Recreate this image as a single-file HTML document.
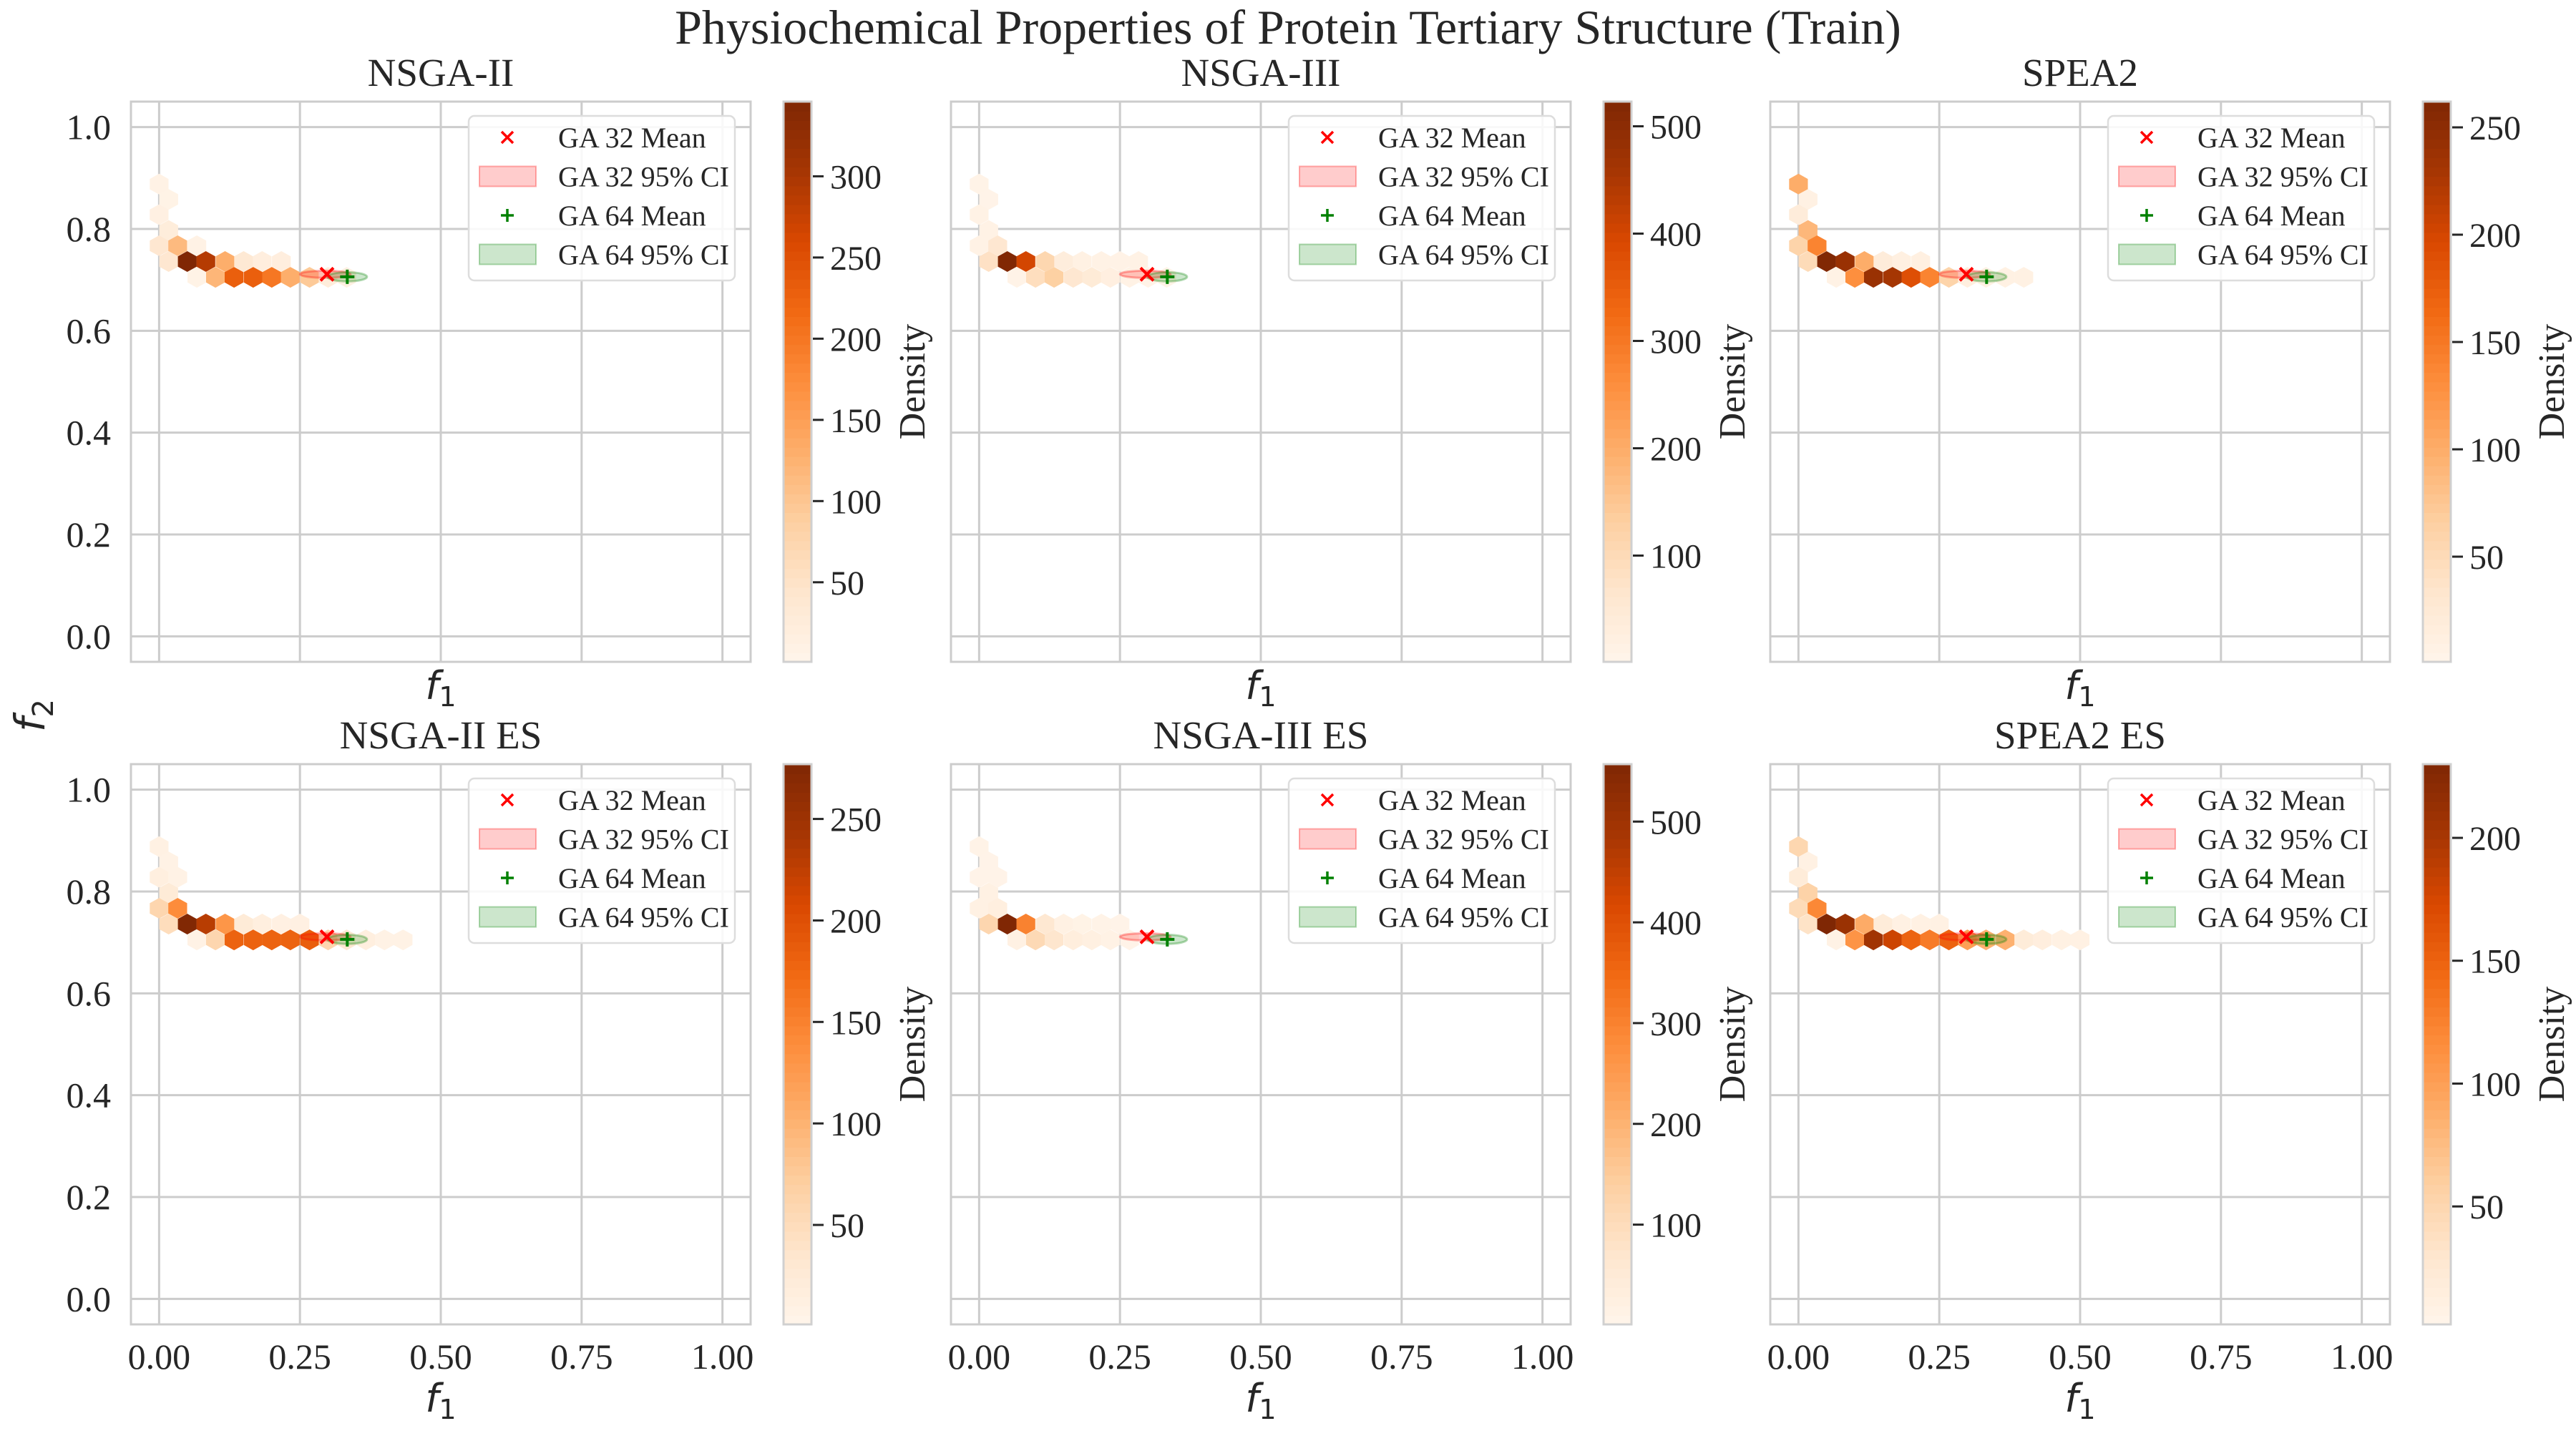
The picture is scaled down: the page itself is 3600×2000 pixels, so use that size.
<!DOCTYPE html>
<html><head><meta charset="utf-8"><style>
html,body{margin:0;padding:0;background:#fff;}
svg{display:block;}
text{font-family:"Liberation Serif",serif;fill:#262626;}
.math{font-family:"DejaVu Sans",sans-serif;font-style:italic;}
</style></head><body>
<svg id="fig" width="3600" height="2000" viewBox="0 0 3600 2000" xmlns="http://www.w3.org/2000/svg">
<text x="1800" y="61" text-anchor="middle" font-size="68">Physiochemical Properties of Protein Tertiary Structure (Train)</text>
<text transform="translate(62,1000) rotate(-90)" text-anchor="middle" font-size="58" class="math">f<tspan font-style="normal" font-size="40" dy="12">2</tspan></text>
</svg>
<script>
// ---- data ----
const panelTitles = ["NSGA-II","NSGA-III","SPEA2","NSGA-II ES","NSGA-III ES","SPEA2 ES"];
const xTickValues = [0, 0.25, 0.5, 0.75, 1.0];
const xTickLabels = ["0.00","0.25","0.50","0.75","1.00"];
const yTickValues = [0, 0.2, 0.4, 0.6, 0.8, 1.0];
const yTickLabels = ["0.0","0.2","0.4","0.6","0.8","1.0"];
const legendLabels = ["GA 32 Mean","GA 32 95% CI","GA 64 Mean","GA 64 95% CI"];

const nsga2F1 = [0,0.017,0,0.017,0,0.033,0.067,0.017,0.05,0.083,0.117,0.15,0.183,0.217,0.067,0.1,0.133,0.167,0.2,0.233,0.267,0.3,0.333];
const nsga2F2 = [0.888,0.858,0.828,0.797,0.767,0.767,0.767,0.736,0.736,0.736,0.736,0.736,0.736,0.736,0.705,0.705,0.705,0.705,0.705,0.705,0.705,0.705,0.705];
const nsga2Count = [10,8,15,25,40,115,10,40,345,290,130,35,20,20,8,120,230,230,200,130,95,25,15];

const nsga3F1 = [0,0.017,0,0.017,0,0.033,0.017,0.05,0.083,0.117,0.15,0.183,0.217,0.25,0.283,0.067,0.1,0.133,0.167,0.2,0.233,0.267,0.3,0.333];
const nsga3F2 = [0.888,0.858,0.828,0.797,0.767,0.767,0.736,0.736,0.736,0.736,0.736,0.736,0.736,0.736,0.736,0.705,0.705,0.705,0.705,0.705,0.705,0.705,0.705,0.705];
const nsga3Count = [10,8,15,15,15,60,80,520,400,110,35,20,15,12,15,10,90,130,60,45,25,15,10,10];

const spea2F1 = [0,0.017,0,0.017,0,0.033,0.017,0.05,0.083,0.117,0.15,0.183,0.217,0.067,0.1,0.133,0.167,0.2,0.233,0.267,0.3,0.333,0.367,0.4];
const spea2F2 = [0.888,0.858,0.828,0.797,0.767,0.767,0.736,0.736,0.736,0.736,0.736,0.736,0.736,0.705,0.705,0.705,0.705,0.705,0.705,0.705,0.705,0.705,0.705,0.705];
const spea2Count = [100,10,20,90,60,140,50,260,240,100,20,12,12,8,130,240,230,190,140,60,15,10,10,10];

const nsga2esF1 = [0,0.017,0,0.033,0.017,0,0.033,0.017,0.05,0.083,0.117,0.15,0.183,0.217,0.25,0.067,0.1,0.133,0.167,0.2,0.233,0.267,0.3,0.333,0.367,0.4,0.433];
const nsga2esF2 = [0.888,0.858,0.828,0.828,0.797,0.767,0.767,0.736,0.736,0.736,0.736,0.736,0.736,0.736,0.736,0.705,0.705,0.705,0.705,0.705,0.705,0.705,0.705,0.705,0.705,0.705,0.705];
const nsga2esCount = [10,8,15,8,25,60,140,50,275,230,130,25,15,12,12,8,60,180,180,180,180,185,60,30,15,8,8];

const nsga3esF1 = [0,0.017,0,0.033,0.017,0,0.033,0.017,0.05,0.083,0.117,0.15,0.183,0.217,0.25,0.067,0.1,0.133,0.167,0.2,0.233,0.267];
const nsga3esF2 = [0.888,0.858,0.828,0.828,0.797,0.767,0.767,0.736,0.736,0.736,0.736,0.736,0.736,0.736,0.736,0.705,0.705,0.705,0.705,0.705,0.705,0.705];
const nsga3esCount = [10,8,8,8,20,20,30,120,555,300,60,20,12,10,8,20,110,70,35,25,15,8];

const spea2esF1 = [0,0.017,0,0.017,0,0.033,0.017,0.05,0.083,0.117,0.15,0.183,0.217,0.25,0.067,0.1,0.133,0.167,0.2,0.233,0.267,0.3,0.333,0.367,0.4,0.433,0.467,0.5];
const spea2esF2 = [0.888,0.858,0.828,0.797,0.767,0.767,0.736,0.736,0.736,0.736,0.736,0.736,0.736,0.736,0.705,0.705,0.705,0.705,0.705,0.705,0.705,0.705,0.705,0.705,0.705,0.705,0.705,0.705];
const spea2esCount = [50,10,20,55,45,120,35,230,210,90,20,10,10,10,8,110,205,180,150,130,150,100,85,85,20,15,10,10];

const cbarMin = [1,1,1,1,1,2];
const cbarMax = [346,523,262,277,557,230];
const cbarTicks = [[50,100,150,200,250,300],[100,200,300,400,500],[50,100,150,200,250],[50,100,150,200,250],[100,200,300,400,500],[50,100,150,200]];

const ga32Mean = [[0.298,0.711],[0.298,0.711],[0.298,0.711],[0.298,0.711],[0.298,0.711],[0.298,0.711]];
const ga64Mean = [[0.334,0.706],[0.334,0.706],[0.334,0.706],[0.334,0.706],[0.334,0.706],[0.334,0.706]];
const ga32HalfWidth = [0.045,0.045,0.045,0.045,0.045,0.045];
const ga64HalfWidth = [0.035,0.035,0.035,0.035,0.035,0.035];
const ga32HalfHeight = [0.007,0.007,0.007,0.007,0.007,0.007];
const ga64HalfHeight = [0.009,0.009,0.009,0.009,0.009,0.009];

const hexF1 = [nsga2F1,nsga3F1,spea2F1,nsga2esF1,nsga3esF1,spea2esF1];
const hexF2 = [nsga2F2,nsga3F2,spea2F2,nsga2esF2,nsga3esF2,spea2esF2];
const hexCount = [nsga2Count,nsga3Count,spea2Count,nsga2esCount,nsga3esCount,spea2esCount];

// ---- layout ----
const NS = "http://www.w3.org/2000/svg";
const svg = document.getElementById("fig");
const colLeft = [183, 1329, 2474];
const axW = 866;
const rowTop = [142, 1068];
const axH = 783;
const hexDx = 0.0333, hexDy = 0.0305;
const oranges = [[255,245,235],[254,230,206],[253,208,162],[253,174,107],[253,141,60],[241,105,19],[217,72,1],[166,54,3],[127,39,4]];
function cmap(t){
  t=Math.max(0,Math.min(1,t));
  const p=t*8, i=Math.min(7,Math.floor(p)), f=p-i;
  const a=oranges[i], b=oranges[i+1];
  return "rgb("+a.map((v,k)=>Math.round(v+(b[k]-v)*f)).join(",")+")";
}
function el(tag, attrs, parent){
  const e=document.createElementNS(NS,tag);
  for(const k in attrs) e.setAttribute(k,attrs[k]);
  (parent||svg).appendChild(e);
  return e;
}

for(let p=0;p<6;p++){
  const col=p%3, row=Math.floor(p/3);
  const L=colLeft[col], T=rowTop[row];
  const sx=v=>L+(v+0.05)/1.1*axW;
  const sy=v=>T+(1.05-v)/1.1*axH;
  const g=el("g",{});
  
  
  const frame=el("rect",{x:L,y:T,width:axW,height:axH,fill:"#fff",stroke:"#cccccc","stroke-width":3},g);
  
  
  xTickValues.forEach((v,i)=>{
    const ln=el("line",{x1:sx(v),x2:sx(v),y1:T,y2:T+axH,stroke:"#cccccc","stroke-width":3},g);
    
    
    if(row===1){
      const t=el("text",{x:sx(v),y:T+axH+62,"text-anchor":"middle","font-size":50},g);
      t.textContent=xTickLabels[i];
      
      
    }
  });
  yTickValues.forEach((v,i)=>{
    const ln=el("line",{x1:L,x2:L+axW,y1:sy(v),y2:sy(v),stroke:"#cccccc","stroke-width":3},g);
    
    
    if(col===0){
      const t=el("text",{x:L-28,y:sy(v)+17,"text-anchor":"end","font-size":50},g);
      t.textContent=yTickLabels[i];
      
      
    }
  });
  const hw=(sx(hexDx)-sx(0))/2, hh=(sy(0)-sy(hexDy))*2/3;
  const F1=hexF1[p], F2=hexF2[p], C=hexCount[p];
  for(let i=0;i<F1.length;i++){
    const cx=sx(F1[i]), cy=sy(F2[i]);
    const pts=[[0,-hh],[hw,-hh/2],[hw,hh/2],[0,hh],[-hw,hh/2],[-hw,-hh/2]].map(q=>(cx+q[0]).toFixed(1)+","+(cy+q[1]).toFixed(1)).join(" ");
    const hx=el("polygon",{points:pts,fill:cmap((C[i]-cbarMin[p])/(cbarMax[p]-cbarMin[p]))},g);
    
    
  }
  const e1=el("ellipse",{cx:sx(ga32Mean[p][0]-0.003),cy:sy(ga32Mean[p][1]),rx:sx(ga32HalfWidth[p])-sx(0),ry:sy(0)-sy(ga32HalfHeight[p]),fill:"rgba(255,0,0,0.2)",stroke:"rgba(255,0,0,0.3)","stroke-width":3},g);
  
  
  const e2=el("ellipse",{cx:sx(ga64Mean[p][0]),cy:sy(ga64Mean[p][1]),rx:sx(ga64HalfWidth[p])-sx(0),ry:sy(0)-sy(ga64HalfHeight[p]),fill:"rgba(0,128,0,0.2)",stroke:"rgba(0,128,0,0.3)","stroke-width":3},g);
  
  
  const mx=sx(ga32Mean[p][0]), my=sy(ga32Mean[p][1]);
  const m1=el("path",{d:`M${mx-9},${my-9}L${mx+9},${my+9}M${mx-9},${my+9}L${mx+9},${my-9}`,stroke:"#ff0000","stroke-width":4},g);
  
  
  const gx=sx(ga64Mean[p][0]), gy=sy(ga64Mean[p][1]);
  const m2=el("path",{d:`M${gx-10},${gy}L${gx+10},${gy}M${gx},${gy-10}L${gx},${gy+10}`,stroke:"#008000","stroke-width":4},g);
  
  
  const tt=el("text",{x:L+axW/2,y:T-22,"text-anchor":"middle","font-size":55},g);
  tt.textContent=panelTitles[p];
  
  
  const xl=el("text",{x:L+axW/2,y:(row===0?T+axH+52:T+axH+122),"text-anchor":"middle","font-size":54,class:"math"},g);
  xl.innerHTML='f<tspan font-style="normal" font-size="38" dy="10">1</tspan>';
  
  
  const lg=el("g",{},g);
  
  
  const lb=el("rect",{x:L+472,y:T+20,width:372,height:230,rx:8,fill:"rgba(255,255,255,0.85)",stroke:"#dddddd","stroke-width":2.5},lg);
  
  
  legendLabels.forEach((lab,i)=>{
    const ey=T+50+i*54.5;
    const mx2=L+526;
    let mk;
    if(i===0) mk=el("path",{d:`M${mx2-8},${ey-8}L${mx2+8},${ey+8}M${mx2-8},${ey+8}L${mx2+8},${ey-8}`,stroke:"#ff0000","stroke-width":3.5},lg);
    else if(i===2) mk=el("path",{d:`M${mx2-9},${ey}L${mx2+9},${ey}M${mx2},${ey-9}L${mx2},${ey+9}`,stroke:"#008000","stroke-width":3.5},lg);
    else mk=el("rect",{x:L+487,y:ey-14,width:79,height:28,fill:i===1?"rgba(255,0,0,0.2)":"rgba(0,128,0,0.2)",stroke:i===1?"rgba(255,0,0,0.3)":"rgba(0,128,0,0.3)","stroke-width":2},lg);
    
    
    const lt=el("text",{x:L+597,y:ey+14,"font-size":40},lg);
    lt.textContent=lab;
    
    
  });
  const cbL=L+axW+46, cbW=39;
  const cg=el("g",{},g);
  
  
  const nSteps=60;
  for(let s=0;s<nSteps;s++){
    const r=el("rect",{x:cbL,y:T+axH-(s+1)*axH/nSteps,width:cbW,height:axH/nSteps+0.8,fill:cmap((s+0.5)/nSteps)},cg);
    
    
  }
  const cbf=el("rect",{x:cbL,y:T,width:cbW,height:axH,fill:"none",stroke:"#d0d0d0","stroke-width":3},cg);
  
  
  const cy2=v=>T+axH-(v-cbarMin[p])/(cbarMax[p]-cbarMin[p])*axH;
  cbarTicks[p].forEach(v=>{
    const tk=el("line",{x1:cbL+cbW+2,x2:cbL+cbW+17,y1:cy2(v),y2:cy2(v),stroke:"#262626","stroke-width":3},cg);
    
    
    const tl=el("text",{x:cbL+cbW+26,y:cy2(v)+17,"font-size":48},cg);
    tl.textContent=String(v);
    
    
  });
  const dl=el("text",{transform:`translate(${cbL+cbW+158},${T+axH/2}) rotate(-90)`,"text-anchor":"middle","font-size":52},cg);
  dl.textContent="Density";
  
  
}
</script>
</body></html>
